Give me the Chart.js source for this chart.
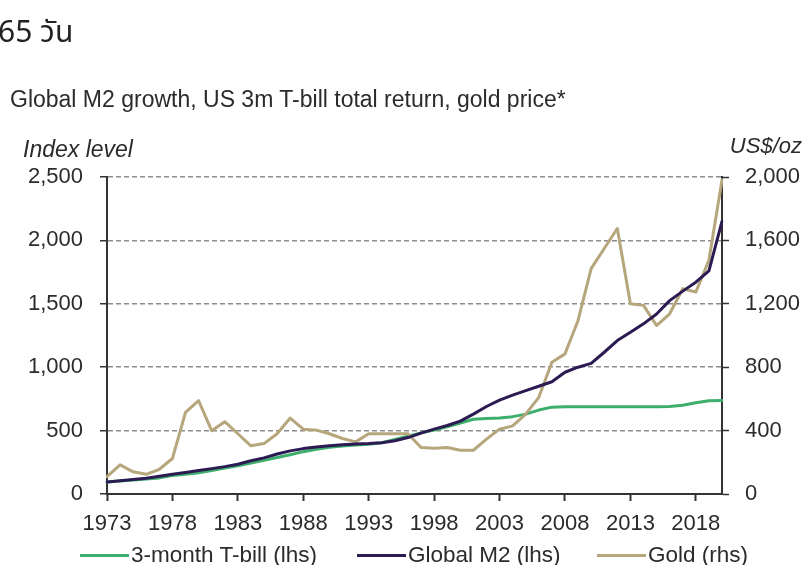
<!DOCTYPE html>
<html>
<head>
<meta charset="utf-8">
<script src="https://cdn.jsdelivr.net/npm/chart.js@4.4.1/dist/chart.umd.min.js"></script>
<style>
  body { margin: 0; background: #fff; }
  #wrap {
    position: relative; width: 805px; height: 565px; overflow: hidden; background: #fff;
    font-family: "Liberation Sans", Arial, Helvetica, sans-serif; color: #2b2b2b;
  }
  #chart { position: absolute; left: 0; top: 0; }
  .txt { position: absolute; white-space: nowrap; line-height: 1; }
  #thai { left: -2px; top: 18px; font-size: 30px; font-family: "Noto Sans Thai", Tahoma, "DejaVu Sans", sans-serif; color: #222; }
  #title { left: 10px; top: 88px; font-size: 23px; }
  #lhsTitle { left: 23px; top: 138px; font-size: 23px; font-style: italic; }
  #rhsTitle { right: 3px; top: 135px; font-size: 22px; font-style: italic; }
  .leg { position: absolute; top: 543px; height: 24px; display: flex; align-items: center; font-size: 22.5px; white-space: nowrap; }
  .leg i { display: inline-block; width: 49px; height: 3px; margin-right: 2px; }
</style>
</head>
<body>
<div id="wrap">
  <canvas id="chart" width="805" height="565"></canvas>
  <div class="txt" id="thai">65 วัน</div>
  <div class="txt" id="title">Global M2 growth, US 3m T-bill total return, gold price*</div>
  <div class="txt" id="lhsTitle">Index level</div>
  <div class="txt" id="rhsTitle">US$/oz</div>
  <div id="legend"></div>
</div>
<script>
// Годы (категории оси X)
const years = [
  '1973','1974','1975','1976','1977','1978','1979','1980','1981','1982',
  '1983','1984','1985','1986','1987','1988','1989','1990','1991','1992',
  '1993','1994','1995','1996','1997','1998','1999','2000','2001','2002',
  '2003','2004','2005','2006','2007','2008','2009','2010','2011','2012',
  '2013','2014','2015','2016','2017','2018','2019','2020'
];
// Подписи, которые видны на оси X
const shownYears = ['1973','1978','1983','1988','1993','1998','2003','2008','2013','2018'];

// 3-month T-bill (lhs), index level
const tbill = [
  95, 103, 110, 118, 127, 145, 155, 167, 185, 205,
  222, 245, 265, 288, 310, 334, 352, 368, 378, 386,
  393, 405, 430, 455, 482, 505, 530, 560, 590, 595,
  600, 610, 630, 662, 685, 688, 688, 688, 688, 688,
  688, 688, 688, 690, 700, 720, 735, 738
];
// Global M2 (lhs), index level
const m2 = [
  95, 104, 114, 125, 140, 155, 170, 185, 200, 216,
  235, 262, 285, 315, 340, 358, 370, 380, 388, 394,
  398, 405, 420, 445, 480, 512, 540, 575, 630, 690,
  740, 780, 815, 850, 885, 960, 1000, 1030, 1118, 1210,
  1276, 1342, 1420, 1525, 1600, 1670, 1760, 2150
];
// Gold (rhs), US$/oz
const gold = [
  110, 184, 140, 124, 156, 224, 515, 589, 399, 456,
  380, 304, 318, 380, 479, 409, 403, 380, 350, 329,
  380, 380, 380, 380, 293, 289, 293, 276, 276, 346,
  409, 430, 504, 610, 831, 884, 1095, 1422, 1549, 1675,
  1200, 1190, 1063, 1137, 1295, 1274, 1475, 1981
];

// Тики осей
const lhsTicks = [0, 500, 1000, 1500, 2000, 2500];
const rhsTicks = [0, 400, 800, 1200, 1600, 2000];

const seriesNames = ['3-month T-bill (lhs)', 'Global M2 (lhs)', 'Gold (rhs)'];
const seriesColors = ['#3dae6c', '#2c1a52', '#b5a67c'];

const axisColor = '#333333';
const tickFont = { family: '"Liberation Sans", Arial, sans-serif', size: 22 };
const fmt = v => Number(v).toLocaleString('en-US');

// Легенда (HTML)
const legendLeft = [80, 357, 597];
const legendBox = document.getElementById('legend');
seriesNames.forEach((name, i) => {
  const item = document.createElement('div');
  item.className = 'leg';
  item.style.left = legendLeft[i] + 'px';
  const line = document.createElement('i');
  line.style.background = seriesColors[i];
  const text = document.createElement('span');
  text.textContent = name;
  item.appendChild(line);
  item.appendChild(text);
  legendBox.appendChild(item);
});

const ctx = document.getElementById('chart').getContext('2d');
new Chart(ctx, {
  type: 'line',
  data: {
    labels: years,
    datasets: [
      { label: seriesNames[0], data: tbill, yAxisID: 'yL', borderColor: seriesColors[0], order: 3 },
      { label: seriesNames[1], data: m2, yAxisID: 'yL', borderColor: seriesColors[1], order: 1 },
      { label: seriesNames[2], data: gold, yAxisID: 'yR', borderColor: seriesColors[2], order: 2 }
    ]
  },
  options: {
    responsive: false,
    animation: false,
    layout: { padding: { top: 177, left: 0, right: 0, bottom: 0 } },
    elements: {
      line: { borderWidth: 3, tension: 0, borderJoinStyle: 'round', borderCapStyle: 'round' },
      point: { radius: 0, hoverRadius: 0 }
    },
    plugins: { legend: { display: false }, tooltip: { enabled: false } },
    scales: {
      x: {
        type: 'category',
        offset: false,
        afterFit: s => { s.height = 71; },
        border: { display: true, color: axisColor, width: 2 },
        grid: { drawOnChartArea: false, drawTicks: true, tickLength: 7, tickColor: axisColor, tickWidth: 2 },
        ticks: {
          autoSkip: false, maxRotation: 0, minRotation: 0, padding: 10,
          color: '#2b2b2b', font: tickFont,
          callback: function (val, idx) {
            const y = years[idx];
            return shownYears.includes(y) ? y : null;
          }
        }
      },
      yL: {
        position: 'left',
        min: 0, max: 2500,
        afterFit: s => { s.width = 107; },
        afterBuildTicks: s => { s.ticks = lhsTicks.map(v => ({ value: v })); },
        // в v4 пунктир сетки задаётся через border.dash
        border: { display: true, color: axisColor, width: 2, dash: [5, 3] },
        grid: {
          color: '#8c8c8c', lineWidth: 1.5,
          tickLength: 7, tickColor: axisColor, tickWidth: 1.5, tickBorderDash: []
        },
        ticks: { color: '#2b2b2b', font: tickFont, padding: 17, callback: v => fmt(v) }
      },
      yR: {
        position: 'right',
        min: 0, max: 2000,
        afterFit: s => { s.width = 83; },
        afterBuildTicks: s => { s.ticks = rhsTicks.map(v => ({ value: v })); },
        border: { display: true, color: axisColor, width: 2 },
        grid: { drawOnChartArea: false, tickLength: 7, tickColor: axisColor, tickWidth: 1.5 },
        ticks: { color: '#2b2b2b', font: tickFont, padding: 16, callback: v => fmt(v) }
      }
    }
  }
});
</script>
</body>
</html>
